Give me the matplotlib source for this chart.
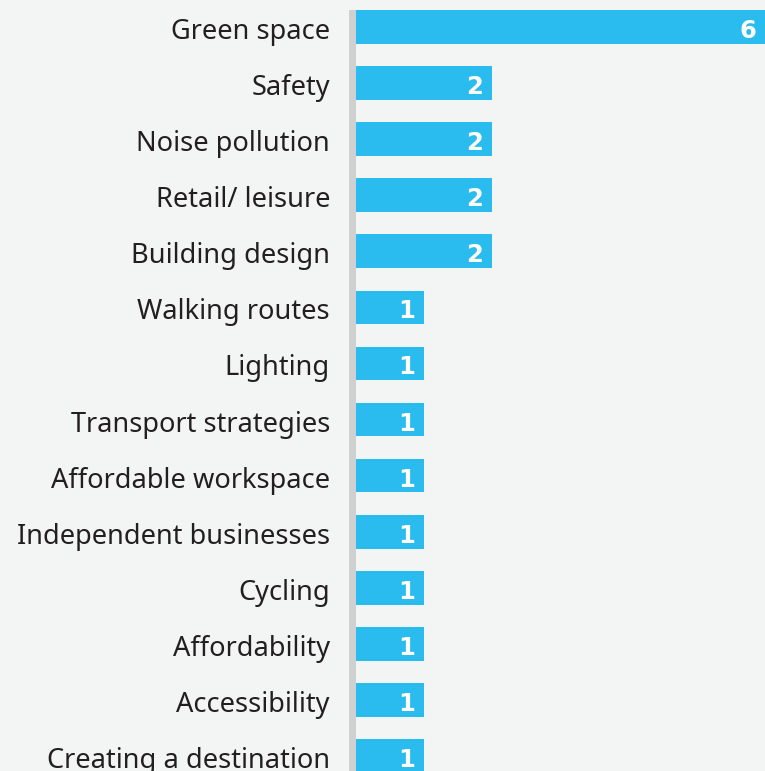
import matplotlib
matplotlib.use("Agg")
import matplotlib.pyplot as plt
from matplotlib.patches import Rectangle

categories = ["Green space", "Safety", "Noise pollution", "Retail/ leisure",
              "Building design", "Walking routes", "Lighting", "Transport strategies",
              "Affordable workspace", "Independent businesses", "Cycling",
              "Affordability", "Accessibility", "Creating a destination"]
values = [6, 2, 2, 2, 2, 1, 1, 1, 1, 1, 1, 1, 1, 1]

W, H = 765, 771
BG = "#f3f4f4"
BAR = "#2abcee"
TXT = "#231f20"

fig = plt.figure(figsize=(W / 100, H / 100), dpi=100, facecolor=BG)
left, right = 356, 765
top = 10
ax = fig.add_axes([left / W, 0, (right - left) / W, (H - top) / H])
ax.set_facecolor(BG)

pos = list(range(len(categories)))
ax.barh(pos, values, height=0.6, color=BAR, align="center")
ax.set_xlim(0, 6)
ax.set_ylim(13.264, -0.3)
ax.set_xticks([])
ax.set_yticks([])
for s in ax.spines.values():
    s.set_visible(False)

fam = ["Noto Sans", "DejaVu Sans"]
for i, (c, v) in enumerate(zip(categories, values)):
    ax.annotate(c, xy=(0, i), xycoords="data", xytext=(-26, -5), textcoords="offset pixels",
                ha="right", va="center", fontsize=19.6, color=TXT, family=fam)
    ax.annotate(str(v), xy=(v, i), xycoords="data", xytext=(-9, -4), textcoords="offset pixels",
                ha="right", va="center", fontsize=17.5, color="white", fontweight="bold",
                family=["DejaVu Sans"])

fig.patches.append(Rectangle((349 / W, 0), 7 / W, (H - top) / H, transform=fig.transFigure,
                             facecolor="#d0d0d0", edgecolor="none"))

fig.savefig("out.png", dpi=100, facecolor=BG)
